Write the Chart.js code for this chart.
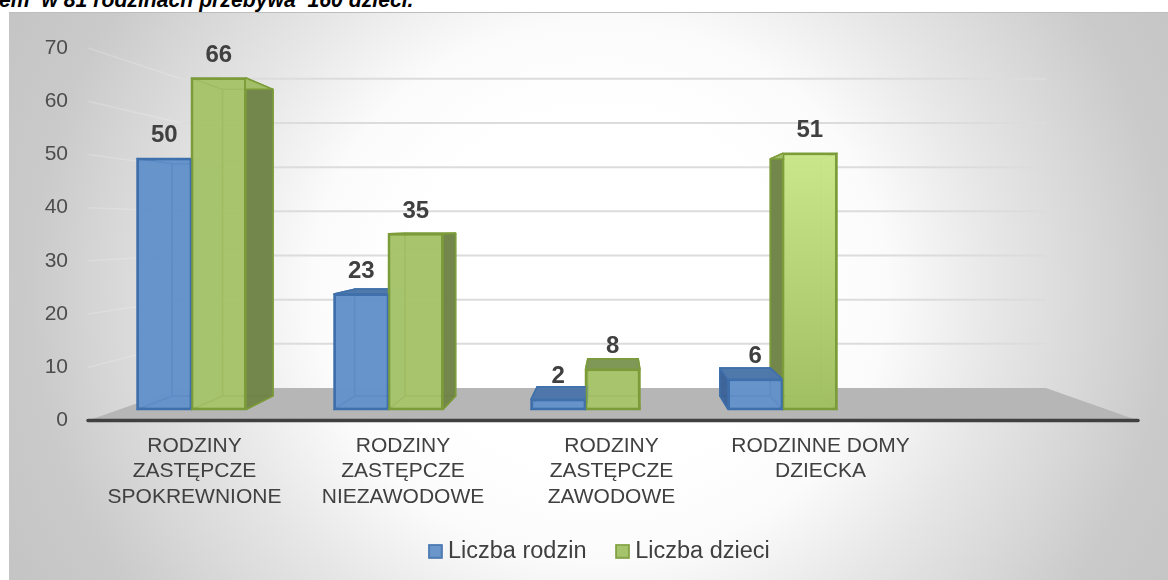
<!DOCTYPE html>
<html lang="pl">
<head>
<meta charset="utf-8">
<title>Rodziny zastępcze</title>
<style>
html,body{margin:0;padding:0;background:#fff;width:1168px;height:580px;overflow:hidden}
#card{position:absolute;left:9px;top:12px;width:1159px;height:568px;box-sizing:border-box;border-top:1px solid #bdbdbd;
background:radial-gradient(ellipse 640px 600px at 591px 278px,#fff 0%,#fff 30%,#fbfbfb 45%,#e6e6e6 62.5%,#d6d6d6 78%,#cacaca 89%,#c2c2c2 110%)}
#head{position:absolute;left:-1px;top:-12px;font:italic bold 21.2px/24px "Liberation Sans",Arial,sans-serif;color:#000;white-space:pre}
canvas{position:absolute;left:0;top:0;display:block}
</style>
</head>
<body>
<div id="card"></div>
<div id="head">em  w 81 rodzinach przebywa  160 dzieci.</div>
<canvas id="c" width="1168" height="580"></canvas>
<script src="https://cdn.jsdelivr.net/npm/chart.js@4"></script>
<script>
const categories = [
  ["RODZINY","ZASTĘPCZE","SPOKREWNIONE"],
  ["RODZINY","ZASTĘPCZE","NIEZAWODOWE"],
  ["RODZINY","ZASTĘPCZE","ZAWODOWE"],
  ["RODZINNE DOMY","DZIECKA"],
  ""
];
const seriesNames = ["Liczba rodzin","Liczba dzieci"];
const familyCounts = [50,23,2,6];
const childCounts = [66,35,8,51];
const labelShift = [3,14.5,26,38,0];

const FONT = '"Liberation Sans",Arial,sans-serif';
const vanish = {x:616,y:229,kx:.927,ky:.925};
const back = (x,y)=>[vanish.x+vanish.kx*(x-vanish.x), vanish.y+vanish.ky*(y-vanish.y)];
const blue = {front:'rgba(102,147,203,.8)',light:'rgba(92,140,198,.92)',dark:'rgba(60,98,150,.92)',top:'rgba(78,118,170,.95)',edge:'#3f70ab'};
const green = {front:'rgba(168,197,108,.82)',light:'rgba(165,194,106,.92)',dark:'rgba(112,130,72,.94)',top:'rgba(124,150,86,.95)',edge:'#7c9c3a'};

function poly(ctx,pts,fill,stroke,w){
  ctx.beginPath();
  pts.forEach((p,i)=>i?ctx.lineTo(p[0],p[1]):ctx.moveTo(p[0],p[1]));
  ctx.closePath();
  if(fill){ctx.fillStyle=fill;ctx.fill();}
  if(stroke){ctx.strokeStyle=stroke;ctx.lineWidth=w||1.5;ctx.lineJoin='round';ctx.stroke();}
}
function extrude(ctx,el,pal){
  const l=el.x-el.width/2,r=el.x+el.width/2,t=el.y,b=el.base;
  const FL=[l,t],FR=[r,t],GL=[l,b],GR=[r,b];
  const BL=back(l,t),BR=back(r,t),CL=back(l,b),CR=back(r,b);
  poly(ctx,[BL,BR,CR,CL],pal.light,pal.edge,1.5);
  poly(ctx,[GL,GR,CR,CL],pal.light,pal.edge,1.5);
  const leftOut=BL[0]<l, rightOut=BR[0]>r, topOut=BL[1]<t;
  poly(ctx,[FL,BL,CL,GL],leftOut?pal.dark:pal.light,pal.edge,1.5);
  poly(ctx,[FR,BR,CR,GR],rightOut?pal.dark:pal.light,pal.edge,1.5);
  poly(ctx,[FL,FR,BR,BL],topOut?pal.top:pal.light,pal.edge,1.5);
}
const scene = {
  id:'scene',
  beforeDraw(chart){
    const xs=chart.scales.x;
    xs.getLabelItems().forEach((it,i)=>{it.options.translation[0]=xs.getPixelForTick(i)+labelShift[i];});
  },
  beforeDatasetsDraw(chart){
    const {ctx,chartArea:a,scales}=chart, yT=scales.yT;
    const wallL=a.left-5, wallB=a.left+88, wallR=a.right-32, floorR=a.right+60, bottom=a.bottom, floorBack=388, ratio=.83;
    ctx.save();
    // walls
    yT.ticks.forEach(t=>{
      if(!t.value) return;
      const yf=yT.getPixelForValue(t.value), yb=floorBack+(yf-bottom)*ratio;
      ctx.strokeStyle='rgba(255,255,255,.18)';ctx.lineWidth=1.5;
      ctx.beginPath();ctx.moveTo(wallL,yf);ctx.lineTo(wallB,yb);ctx.stroke();
      ctx.strokeStyle='#dcdcdc';ctx.lineWidth=2;
      ctx.beginPath();ctx.moveTo(wallB,yb);ctx.lineTo(wallR,yb);ctx.stroke();
    });
    // floor
    poly(ctx,[[wallL,bottom],[wallB,floorBack],[wallR,floorBack],[floorR,bottom]],'#b6b6b6');
    ctx.strokeStyle='#404040';ctx.lineWidth=3.5;ctx.lineCap='round';
    ctx.beginPath();ctx.moveTo(wallL,bottom);ctx.lineTo(floorR,bottom);ctx.stroke();
    // bars' depth, painted back to front around the vanishing point
    const m0=chart.getDatasetMeta(0).data, m1=chart.getDatasetMeta(1).data;
    m0.forEach((e0,i)=>{
      const e1=m1[i];
      if(e0.x<vanish.x-60){extrude(ctx,e0,blue);extrude(ctx,e1,green);}
      else{extrude(ctx,e1,green);extrude(ctx,e0,blue);}
    });
    ctx.restore();
  },
  afterDatasetsDraw(chart){
    const {ctx}=chart;
    ctx.save();
    ctx.font='bold 24px '+FONT;ctx.fillStyle='#404040';ctx.textAlign='center';ctx.textBaseline='alphabetic';
    chart.data.datasets.forEach((ds,d)=>{
      chart.getDatasetMeta(d).data.forEach((el,i)=>ctx.fillText(String(ds.data[i]),el.x,el.y-16));
    });
    ctx.restore();
  }
};
function swatch(fill,edge){
  const s=document.createElement('canvas');s.width=s.height=15;
  const g=s.getContext('2d');
  g.fillStyle=fill;g.fillRect(1,1,13,13);
  g.strokeStyle=edge;g.lineWidth=1.6;g.strokeRect(1,1,13,13);
  return s;
}
new Chart(document.getElementById('c'),{
  type:'bar',
  data:{
    labels:categories,
    datasets:[
      {label:seriesNames[0],data:familyCounts,yAxisID:'y',backgroundColor:blue.front,borderColor:blue.edge,borderWidth:2,borderSkipped:false,
       categoryPercentage:.553,barPercentage:1},
      {label:seriesNames[1],data:childCounts,yAxisID:'y',
       backgroundColor(c){
         if(c.dataIndex!==3||!c.chart.chartArea) return green.front;
         const y=c.chart.scales.y, g=c.chart.ctx.createLinearGradient(0,y.getPixelForValue(childCounts[3]),0,y.getPixelForValue(0));
         g.addColorStop(0,'rgba(203,232,140,.96)');g.addColorStop(1,'rgba(160,190,98,.96)');
         return g;
       },
       borderColor:green.edge,borderWidth:2,borderSkipped:false,categoryPercentage:.553,barPercentage:1}
    ]
  },
  options:{
    responsive:false,animation:false,events:[],
    layout:{padding:{left:36,right:0,top:48,bottom:7}},
    plugins:{
      tooltip:{enabled:false},
      title:{display:false},
      legend:{position:'bottom',labels:{
        font:{family:FONT,size:23.5},color:'#404040',padding:35,usePointStyle:true,boxWidth:2,boxHeight:14,
        generateLabels(chart){
          const items=Chart.defaults.plugins.legend.labels.generateLabels(chart);
          items[0].pointStyle=swatch('#6a96cc',blue.edge);
          items[1].pointStyle=swatch('#a6c46c',green.edge);
          return items;
        }
      }}
    },
    scales:{
      x:{type:'category',grid:{display:false},border:{display:false},
         ticks:{autoSkip:false,maxRotation:0,minRotation:0,padding:5,color:'#404040',font:{family:FONT,size:21,lineHeight:1.21}},
         afterFit(s){s.height=84;s._computeLabelArea=()=>undefined;}},
      yT:{position:'left',min:0,max:70,grid:{display:false},border:{display:false},
         ticks:{stepSize:10,padding:17,color:'#4d4d4d',font:{family:FONT,size:21}},
         afterFit(s){s.width=57;}},
      y:{position:'right',min:-2.193,max:71.98,grid:{display:false},border:{display:false},
         ticks:{display:false},afterFit(s){s.width=90;}}
    }
  },
  plugins:[scene]
});
</script>
</body>
</html>
